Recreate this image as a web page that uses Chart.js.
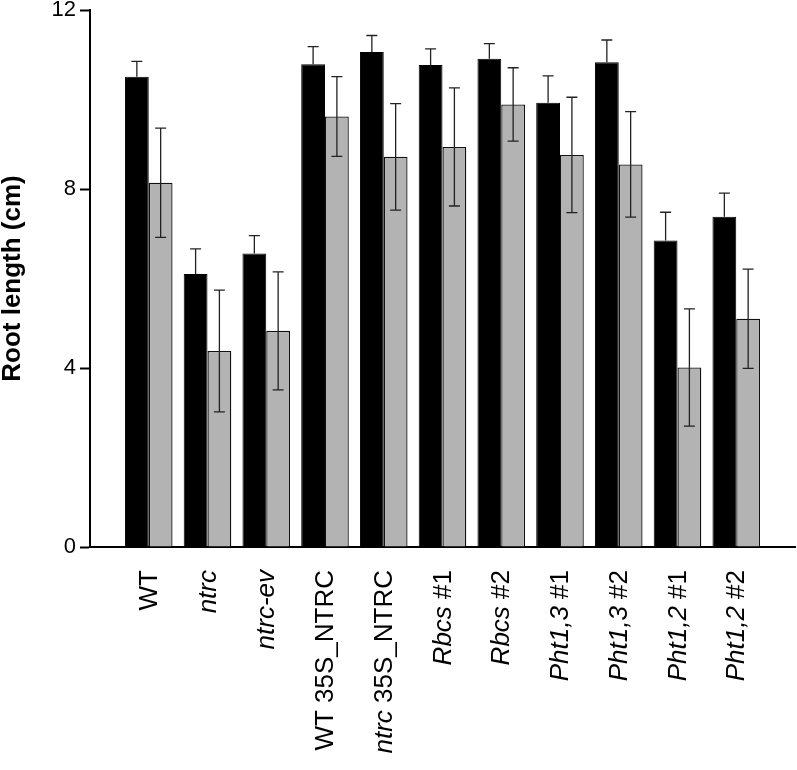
<!DOCTYPE html>
<html>
<head>
<meta charset="utf-8">
<script src="https://cdn.jsdelivr.net/npm/chart.js@4/dist/chart.umd.min.js"></script>
<style>
    html, body { margin: 0; padding: 0; background: #fff; }
    #wrap { width: 797px; height: 770px; }
</style>
</head>
<body>
<div id="wrap"><canvas id="chart" width="797" height="770"></canvas></div>
<script>
const categories = ['WT', 'ntrc', 'ntrc-ev', 'WT 35S_NTRC', 'ntrc 35S_NTRC', 'Rbcs #1', 'Rbcs #2',
    'Pht1,3 #1', 'Pht1,3 #2', 'Pht1,2 #1', 'Pht1,2 #2'];
// leading part of each label that is set in italics
const italicParts = ['', 'ntrc', 'ntrc-ev', '', 'ntrc', 'Rbcs', 'Rbcs',
    'Pht1,3', 'Pht1,3', 'Pht1,2', 'Pht1,2'];

const blackValues = [10.51, 6.10, 6.56, 10.79, 11.06, 10.77, 10.91, 9.93, 10.83, 6.85, 7.38];
const blackErrors = [0.34, 0.56, 0.40, 0.39, 0.37, 0.36, 0.34, 0.60, 0.50, 0.63, 0.53];
const grayValues = [8.14, 4.38, 4.83, 9.62, 8.72, 8.94, 9.89, 8.76, 8.55, 4.01, 5.10];
const grayErrors = [1.22, 1.36, 1.32, 0.89, 1.19, 1.32, 0.82, 1.29, 1.18, 1.31, 1.11];

const yTicks = [0, 4, 8, 12];

// blank slots at both ends leave the gap between the axes and the first/last group
const labels = ['', ...categories, ''];
const pad = arr => [null, ...arr, null];

const errorBars = {
    id: 'errorBars',
    afterDatasetsDraw(chart) {
        const ctx = chart.ctx;
        const y = chart.scales.y;
        const errs = [blackErrors, grayErrors];
        const vals = [blackValues, grayValues];
        ctx.save();
        ctx.strokeStyle = '#222';
        ctx.lineWidth = 1.3;
        chart.data.datasets.forEach((ds, d) => {
            const meta = chart.getDatasetMeta(d);
            meta.data.forEach((bar, i) => {
                const k = i - 1;
                if (k < 0 || k >= categories.length) return;
                const cap = 5.5;
                const top = y.getPixelForValue(vals[d][k] + errs[d][k]);
                // black bars only show the upper half
                const bot = d === 0 ? y.getPixelForValue(vals[d][k])
                                    : y.getPixelForValue(vals[d][k] - errs[d][k]);
                ctx.beginPath();
                ctx.moveTo(bar.x, top);
                ctx.lineTo(bar.x, bot);
                ctx.moveTo(bar.x - cap, top);
                ctx.lineTo(bar.x + cap, top);
                if (d === 1) {
                    ctx.moveTo(bar.x - cap, bot);
                    ctx.lineTo(bar.x + cap, bot);
                }
                ctx.stroke();
            });
        });
        ctx.restore();
    }
};

const mixedLabels = {
    id: 'mixedLabels',
    afterDraw(chart) {
        const ctx = chart.ctx;
        const x = chart.scales.x;
        const family = '"Liberation Sans", Arial, sans-serif';
        const normal = '26px ' + family;
        const italic = 'italic 26px ' + family;
        ctx.save();
        ctx.fillStyle = '#000';
        ctx.textBaseline = 'middle';
        ctx.textAlign = 'left';
        categories.forEach((name, k) => {
            const it = italicParts[k];
            const rest = name.slice(it.length);
            ctx.font = italic;
            const w1 = ctx.measureText(it).width;
            ctx.font = normal;
            const w2 = ctx.measureText(rest).width;
            const cx = x.getPixelForValue(k + 1) + 1;
            ctx.save();
            ctx.translate(cx, 570);
            ctx.rotate(-Math.PI / 2);
            let pos = -(w1 + w2);
            ctx.font = italic;
            ctx.fillText(it, pos, 0);
            pos += w1;
            ctx.font = normal;
            ctx.fillText(rest, pos, 0);
            ctx.restore();
        });
        ctx.restore();
    }
};

new Chart(document.getElementById('chart'), {
    type: 'bar',
    data: {
        labels: labels,
        datasets: [
            {
                label: 'black',
                data: pad(blackValues),
                backgroundColor: '#000',
                borderColor: '#000',
                borderWidth: 1,
                categoryPercentage: 0.81,
                barPercentage: 1.0
            },
            {
                label: 'gray',
                data: pad(grayValues),
                backgroundColor: '#b3b3b3',
                borderColor: '#111',
                borderWidth: 1.3,
                categoryPercentage: 0.81,
                barPercentage: 1.0
            }
        ]
    },
    options: {
        responsive: false,
        animation: false,
        layout: { padding: { top: 0, right: 2, left: 0, bottom: 0 } },
        plugins: {
            legend: { display: false },
            tooltip: { enabled: false }
        },
        scales: {
            x: {
                offset: false,
                grid: { display: false },
                border: { display: true, color: '#000', width: 2 },
                ticks: { display: false },
                afterFit: scale => { scale.height = 223; }
            },
            y: {
                min: 0,
                max: 12,
                afterBuildTicks: scale => { scale.ticks = yTicks.map(v => ({ value: v })); },
                grid: {
                    display: true,
                    drawOnChartArea: false,
                    drawTicks: true,
                    tickLength: 10,
                    tickWidth: 2,
                    tickColor: '#000'
                },
                border: { display: true, color: '#000', width: 2 },
                ticks: {
                    color: '#000',
                    padding: 4,
                    font: { family: '"Liberation Sans", Arial, sans-serif', size: 22, lineHeight: 1.0 }
                },
                title: {
                    display: true,
                    text: 'Root length (cm)',
                    color: '#000',
                    padding: 0,
                    font: { family: '"Liberation Sans", Arial, sans-serif', size: 26, weight: 'bold', lineHeight: 1.0 }
                },
                afterFit: scale => {
                    scale.width = 90;
                    scale.paddingTop = 10;
                    scale.paddingBottom = 0;
                }
            }
        }
    },
    plugins: [errorBars, mixedLabels]
});
</script>
</body>
</html>
